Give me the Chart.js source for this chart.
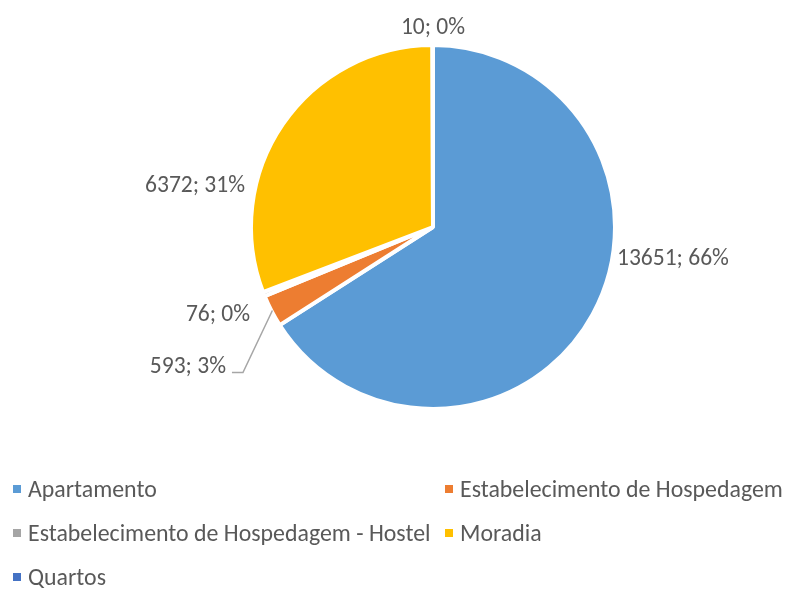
<!DOCTYPE html>
<html>
<head>
<meta charset="utf-8">
<script src="https://cdn.jsdelivr.net/npm/chart.js@4/dist/chart.umd.min.js"></script>
<style>
html,body{margin:0;padding:0;background:#ffffff;}
#wrap{width:788px;height:589px;position:relative;}
</style>
</head>
<body>
<div id="wrap"><canvas id="c" width="788" height="589"></canvas></div>
<script>
// ---- data ----
const categories = ['Apartamento', 'Estabelecimento de Hospedagem', 'Estabelecimento de Hospedagem - Hostel', 'Moradia', 'Quartos'];
const values = [13651, 593, 76, 6372, 10];
const colors = ['#5B9BD5', '#ED7D31', '#A5A5A5', '#FFC000', '#4472C4'];

// ---- style / layout ----
const FONT_FAMILY = 'Carlito, Lato, sans-serif';
const TEXT_COLOR = '#595959';
const BORDER_W = 4;
// label anchor: polar angle (deg, canvas coords) and radius factor relative to the visible pie radius
const labelLayout = [
  {angle: 9.3,    k: 1.036, align: 'left'},
  {angle: 146.4,  k: 1.381, align: 'right', leader: true},
  {angle: 154.8,  k: 1.123, align: 'right'},
  {angle: -167.0, k: 1.072, align: 'right'},
  {angle: -90,    k: 1.119, align: 'center'}
];
const legendLayout = {cols: [13, 445], textGap: 15, firstBaseline: 497, rowStep: 44, box: 8};

const total = values.reduce((a, b) => a + b, 0);
const pctText = values.map(v => Math.round(v / total * 100) + '%');
const labelText = values.map((v, i) => v + '; ' + pctText[i]);

function fitSize(ctx, text, target) {
  ctx.font = '20px ' + FONT_FAMILY;
  return 20 * target / ctx.measureText(text).width;
}

const dataLabelPlugin = {
  id: 'dataLabels',
  afterDatasetsDraw(chart) {
    const ctx = chart.ctx;
    const meta = chart.getDatasetMeta(0);
    const size = fitSize(ctx, '6372; 31%', 100);
    ctx.save();
    ctx.font = size + 'px ' + FONT_FAMILY;
    ctx.fillStyle = TEXT_COLOR;
    ctx.textBaseline = 'alphabetic';
    const digitH = ctx.measureText('0').actualBoundingBoxAscent;
    meta.data.forEach((arc, i) => {
      const p = arc.getProps(['x', 'y', 'startAngle', 'endAngle', 'outerRadius'], true);
      const R = p.outerRadius - BORDER_W / 2;
      const L = labelLayout[i];
      const a = L.angle * Math.PI / 180;
      const ax = p.x + Math.cos(a) * R * L.k;
      const ay = p.y + Math.sin(a) * R * L.k;
      ctx.textAlign = L.align;
      ctx.fillText(labelText[i], ax, ay + digitH / 2);
      if (L.leader) {
        const mid = (p.startAngle + p.endAngle) / 2;
        const ex = p.x + Math.cos(mid) * (R + 1);
        const ey = p.y + Math.sin(mid) * (R + 1);
        ctx.beginPath();
        ctx.strokeStyle = '#A6A6A6';
        ctx.lineWidth = 1.5;
        ctx.moveTo(ax + 6, ay + 8);
        ctx.lineTo(ax + 17, ay + 8);
        ctx.lineTo(ex, ey);
        ctx.stroke();
      }
    });
    ctx.restore();
  }
};

const legendPlugin = {
  id: 'gridLegend',
  afterDraw(chart) {
    const ctx = chart.ctx;
    const size = fitSize(ctx, 'Estabelecimento de Hospedagem', 323);
    ctx.save();
    ctx.font = size + 'px ' + FONT_FAMILY;
    ctx.textBaseline = 'alphabetic';
    ctx.textAlign = 'left';
    const capH = ctx.measureText('H').actualBoundingBoxAscent;
    const lg = legendLayout;
    categories.forEach((name, i) => {
      const col = i % lg.cols.length;
      const row = Math.floor(i / lg.cols.length);
      const x = lg.cols[col];
      const base = lg.firstBaseline + row * lg.rowStep;
      const cy = base - capH / 2;
      ctx.fillStyle = colors[i];
      ctx.fillRect(x, cy - lg.box / 2, lg.box, lg.box);
      ctx.fillStyle = TEXT_COLOR;
      ctx.fillText(name, x + lg.textGap, base);
    });
    ctx.restore();
  }
};

new Chart(document.getElementById('c'), {
  type: 'pie',
  data: {
    labels: categories,
    datasets: [{
      data: values,
      backgroundColor: colors,
      borderColor: '#ffffff',
      borderWidth: BORDER_W,
      borderAlign: 'center'
    }]
  },
  options: {
    responsive: false,
    animation: false,
    events: [],
    layout: {padding: {left: 249, right: 171, top: 43, bottom: 178}},
    plugins: {
      legend: {display: false},
      tooltip: {enabled: false}
    }
  },
  plugins: [dataLabelPlugin, legendPlugin]
});
</script>
</body>
</html>
